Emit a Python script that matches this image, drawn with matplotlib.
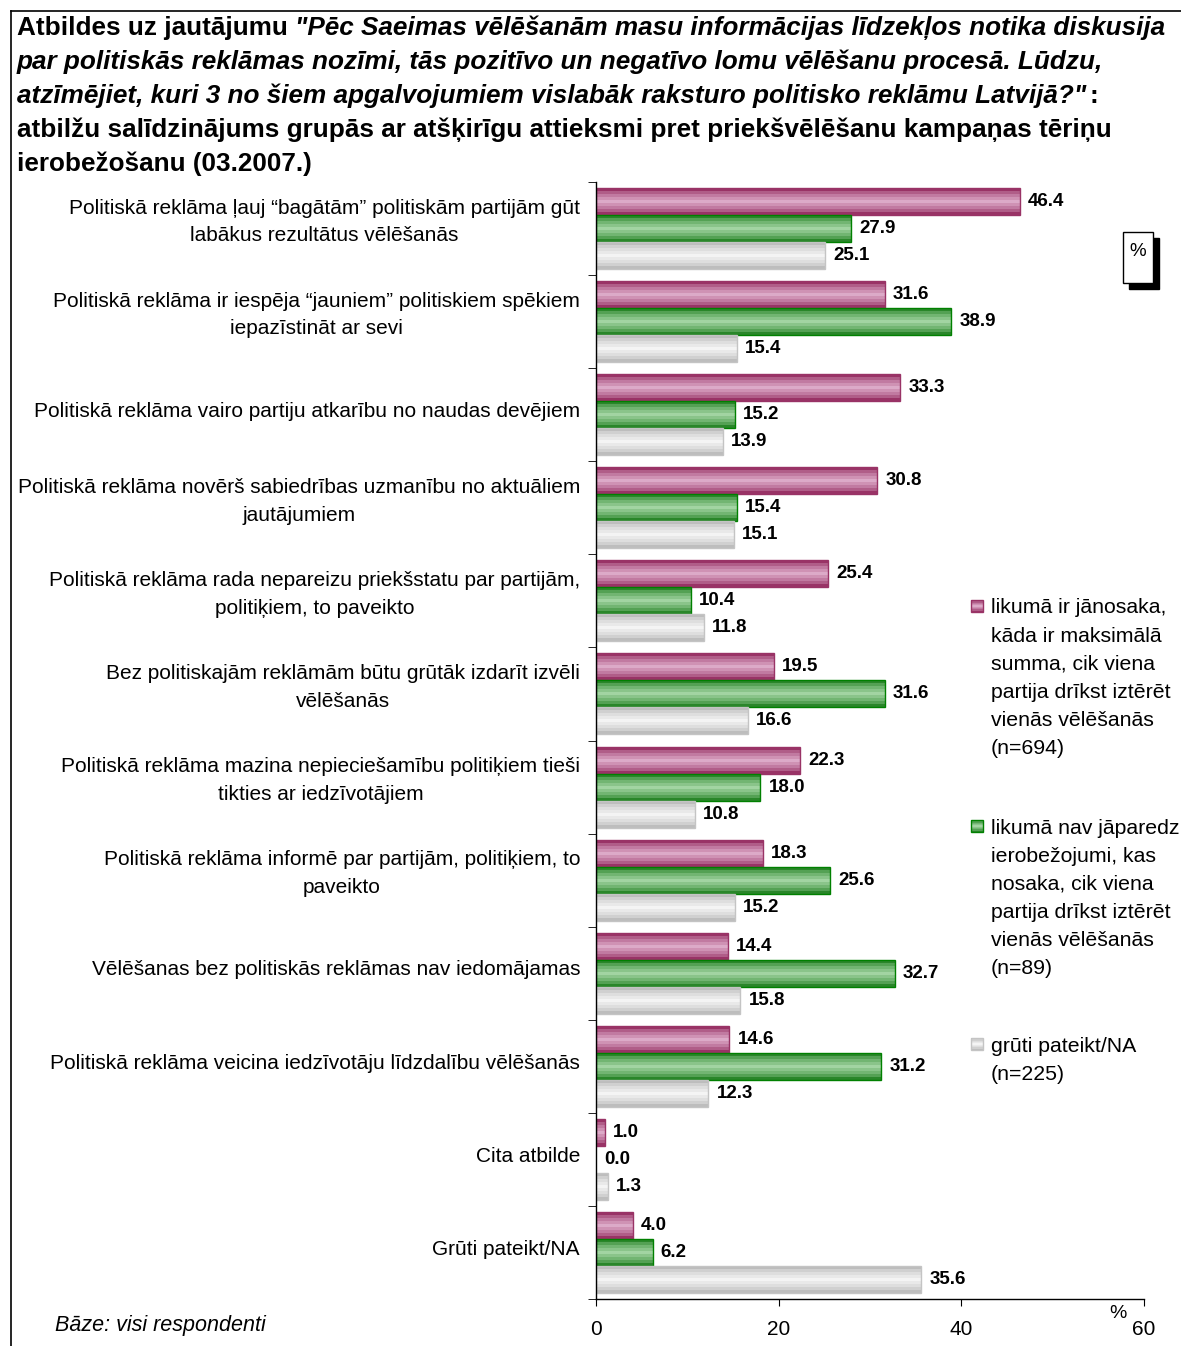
import numpy as np
import matplotlib.pyplot as plt
from matplotlib.patches import Rectangle
from matplotlib.lines import Line2D
from matplotlib.colors import to_rgb

plt.rcParams['font.family'] = ['Liberation Sans', 'DejaVu Sans']

W, H = 1181, 1346

categories = [
    "Politiskā reklāma ļauj “bagātām” politiskām partijām gūt\nlabākus rezultātus vēlēšanās",
    "Politiskā reklāma ir iespēja “jauniem” politiskiem spēkiem\niepazīstināt ar sevi",
    "Politiskā reklāma vairo partiju atkarību no naudas devējiem",
    "Politiskā reklāma novērš sabiedrības uzmanību no aktuāliem\njautājumiem",
    "Politiskā reklāma rada nepareizu priekšstatu par partijām,\npolitiķiem, to paveikto",
    "Bez politiskajām reklāmām būtu grūtāk izdarīt izvēli\nvēlēšanās",
    "Politiskā reklāma mazina nepieciešamību politiķiem tieši\ntikties ar iedzīvotājiem",
    "Politiskā reklāma informē par partijām, politiķiem, to\npaveikto",
    "Vēlēšanas bez politiskās reklāmas nav iedomājamas",
    "Politiskā reklāma veicina iedzīvotāju līdzdalību vēlēšanās",
    "Cita atbilde",
    "Grūti pateikt/NA",
]
limit_yes = [46.4, 31.6, 33.3, 30.8, 25.4, 19.5, 22.3, 18.3, 14.4, 14.6, 1.0, 4.0]
limit_no = [27.9, 38.9, 15.2, 15.4, 10.4, 31.6, 18.0, 25.6, 32.7, 31.2, 0.0, 6.2]
dont_know = [25.1, 15.4, 13.9, 15.1, 11.8, 16.6, 10.8, 15.2, 15.8, 12.3, 1.3, 35.6]

legend_labels = [
    "likumā ir jānosaka,\nkāda ir maksimālā\nsumma, cik viena\npartija drīkst iztērēt\nvienās vēlēšanās\n(n=694)",
    "likumā nav jāparedz\nierobežojumi, kas\nnosaka, cik viena\npartija drīkst iztērēt\nvienās vēlēšanās\n(n=89)",
    "grūti pateikt/NA\n(n=225)",
]

# (dark edge stripe, light centre stripe, outline)
styles = [
    (to_rgb('#993366'), to_rgb('#dcaac8'), '#993366'),
    (to_rgb('#2a862a'), to_rgb('#a2d4a2'), '#008000'),
    (to_rgb('#bdbdbd'), to_rgb('#f4f4f4'), '#c4c4c4'),
]
profile = [0.0, 0.35, 0.6, 0.8, 1.0, 0.8, 0.6, 0.35, 0.0]


def fx(px):
    return px / W


def fy(py):
    return 1 - py / H


def striped_barh(ax, y, value, h, dark, light, edge):
    n = len(profile)
    dark = np.array(dark)
    light = np.array(light)
    for k in range(n):
        c = dark + (light - dark) * profile[k]
        ax.barh(y - h / 2 + (k + 0.5) * h / n, value, height=h / n,
                color=c, linewidth=0)
    if value > 0:
        ax.barh(y, value, height=h, fill=False, edgecolor=edge, linewidth=1)


fig = plt.figure(figsize=(W / 100, H / 100), dpi=100)
ax = fig.add_axes([fx(596), fy(1299), fx(1144) - fx(596), fy(182) - fy(1299)])

ypos = np.arange(len(categories))
bh = 0.29
offsets = [-bh, 0, bh]
for s, vals in enumerate([limit_yes, limit_no, dont_know]):
    dark, light, edge = styles[s]
    for i, v in enumerate(vals):
        yy = ypos[i] + offsets[s]
        striped_barh(ax, yy, v, bh, dark, light, edge)
        ax.text(v + 0.9, yy, f"{v:.1f}", va='center', ha='left',
                fontsize=13.5, fontweight='bold')

ax.set_xlim(0, 60)
ax.set_ylim(len(categories) - 0.5, -0.5)
ax.set_xticks([0, 20, 40, 60])
ax.tick_params(axis='x', direction='out', length=5, pad=10, labelsize=15)
ax.set_yticks(ypos)
ax.set_yticklabels([])
ax.tick_params(axis='y', which='major', length=0)
ax.set_yticks(np.arange(-0.5, len(categories)), minor=True)
ax.tick_params(axis='y', which='minor', length=6, direction='out')

# category labels, a bit above the group centre like the original
for i, lab in enumerate(categories):
    shift = 0.07 if '\n' in lab else 0.035
    ax.text(-16 / 548, ypos[i] - shift, lab, transform=ax.get_yaxis_transform(),
            ha='right', va='center', multialignment='center', linespacing=1.58,
            fontsize=15)

for sp in ['top', 'right']:
    ax.spines[sp].set_visible(False)
ax.spines['left'].set_linewidth(1)
ax.spines['bottom'].set_linewidth(1)

# frame lines
fig.add_artist(Line2D([fx(11), fx(1181)], [fy(11), fy(11)], color='black', lw=1.2))
fig.add_artist(Line2D([fx(11), fx(11)], [fy(11), fy(1346)], color='black', lw=1.2))

# title with mixed styles
fig.canvas.draw()
renderer = fig.canvas.get_renderer()
tsize = 18.8
line_y = [28, 62, 96, 130, 164]


def put(x_px, y_px, s, style='normal'):
    t = fig.text(fx(x_px), fy(y_px), s, fontsize=tsize, fontweight='bold',
                 fontstyle=style, va='center', ha='left')
    bb = t.get_window_extent(renderer)
    return x_px + bb.width


x = put(17, line_y[0], "Atbildes uz jautājumu")
put(x + 7, line_y[0], "\"Pēc Saeimas vēlēšanām masu informācijas līdzekļos notika diskusija", 'italic')
put(17, line_y[1], "par politiskās reklāmas nozīmi, tās pozitīvo un negatīvo lomu vēlēšanu procesā. Lūdzu,", 'italic')
x = put(17, line_y[2], "atzīmējiet, kuri 3 no šiem apgalvojumiem vislabāk raksturo politisko reklāmu Latvijā?\"", 'italic')
put(x + 3, line_y[2], ":")
put(17, line_y[3], "atbilžu salīdzinājums grupās ar atšķirīgu attieksmi pret priekšvēlēšanu kampaņas tēriņu")
put(17, line_y[4], "ierobežošanu (03.2007.)")

# legend
leg_top = [606, 826, 1044]
for s, lab in enumerate(legend_labels):
    dark, light, edge = styles[s]
    n = len(profile)
    x0, y0, w, h = 971, leg_top[s] - 6, 12, 12
    for k in range(n):
        c = np.array(dark) + (np.array(light) - np.array(dark)) * profile[k]
        fig.add_artist(Rectangle((fx(x0), fy(y0 + (k + 1) * h / n)), w / W, h / n / H,
                                 facecolor=c, edgecolor='none', transform=fig.transFigure))
    fig.add_artist(Rectangle((fx(x0), fy(y0 + h)), w / W, h / H, facecolor='none',
                             edgecolor=edge, lw=1, transform=fig.transFigure))
    for j, line in enumerate(lab.split('\n')):
        fig.text(fx(991), fy(leg_top[s] + 28 * j + 7.5), line, fontsize=15.3,
                 va='baseline', ha='left')

# percent box
fig.add_artist(Rectangle((fx(1129), fy(289)), 30 / W, 51 / H, facecolor='black',
                         edgecolor='black', transform=fig.transFigure))
fig.add_artist(Rectangle((fx(1123), fy(283)), 30 / W, 51 / H, facecolor='white',
                         edgecolor='black', lw=1, transform=fig.transFigure))
fig.text(fx(1138), fy(252), "%", fontsize=13.5, ha='center', va='center')

fig.text(fx(1118), fy(1313), "%", fontsize=14, ha='center', va='center')
fig.text(fx(55), fy(1326), "Bāze: visi respondenti", fontsize=15.5, fontstyle='italic',
         ha='left', va='center')

fig.savefig('out.png', dpi=100)
